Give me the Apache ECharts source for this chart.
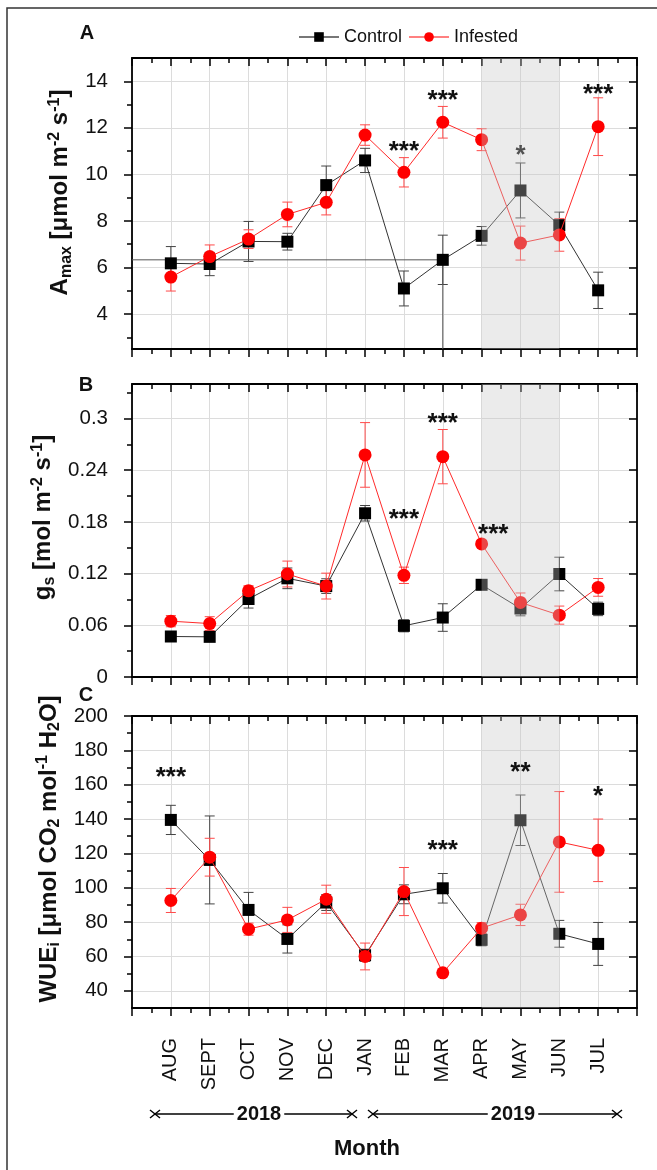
<!DOCTYPE html>
<html lang="en">
<head>
<meta charset="UTF-8">
<title>Amax, gs, WUEi</title>
<script src="https://cdn.jsdelivr.net/npm/echarts@6/dist/echarts.min.js"></script>
<style>html,body{margin:0;padding:0;background:#fff;}</style>
</head>
<body>
<div id="chart" style="width:657px;height:1170px;"></div>
<script>
// months, plotted at x = 1..12
var months = ['AUG', 'SEPT', 'OCT', 'NOV', 'DEC', 'JAN', 'FEB', 'MAR', 'APR', 'MAY', 'JUN', 'JUL'];
var shadeFrom = 'APR', shadeTo = 'JUN';

// panel A - Amax
var amaxControl    = [6.18, 6.15, 7.12, 7.11, 9.54, 10.6, 5.1, 6.33, 7.36, 9.31, 7.82, 5.02];
var amaxControlErr = [0.72, 0.5, 0.86, 0.36, 0.82, 0.52, 0.75, 1.06, 0.4, 1.18, 0.56, 0.78];
var amaxInf        = [5.59, 6.47, 7.22, 8.28, 8.8, 11.69, 10.09, 12.24, 11.49, 7.05, 7.4, 12.05];
var amaxInfErr     = [0.6, 0.5, 0.4, 0.53, 0.54, 0.44, 0.63, 0.68, 0.47, 0.73, 0.7, 1.24];
var amaxStarX   = [7, 8, 10, 12];
var amaxStarY   = [10.99, 13.17, 10.78, 13.42];
var amaxStarTxt = ['***', '***', '*', '***'];
var amaxTicks = [4, 6, 8, 10, 12, 14];
var amaxMinor = [3, 5, 7, 9, 11, 13];

// panel B - gs
var gsControl    = [0.047, 0.0466, 0.0905, 0.1145, 0.1055, 0.19, 0.0594, 0.069, 0.107, 0.0795, 0.1195, 0.079];
var gsControlErr = [0.005, 0.005, 0.0105, 0.012, 0.0085, 0.009, 0.007, 0.016, 0.003, 0.0085, 0.0195, 0.0078];
var gsInf        = [0.0648, 0.062, 0.1, 0.1195, 0.1055, 0.2577, 0.118, 0.2557, 0.1544, 0.0865, 0.0718, 0.104];
var gsInfErr     = [0.0065, 0.008, 0.006, 0.015, 0.015, 0.0375, 0.0095, 0.0315, 0.004, 0.011, 0.0105, 0.0103];
var gsStarX   = [7, 8, 9.3];
var gsStarY   = [0.1824, 0.2938, 0.165];
var gsStarTxt = ['***', '***', '***'];
var gsTicks = [0, 0.06, 0.12, 0.18, 0.24, 0.3];
var gsMinor = [0.03, 0.09, 0.15, 0.21, 0.27, 0.33];

// panel C - WUEi
var wueControl    = [139.5, 116.2, 87.1, 70.2, 91.4, 60.7, 96.2, 99.7, 69.7, 139.3, 73.2, 67.3];
var wueControlErr = [8.5, 25.6, 10.2, 8.2, 4.6, 3.5, 5.5, 8.6, 3.5, 14.7, 7.8, 12.5];
var wueInf        = [92.6, 117.8, 75.9, 81.3, 93.3, 60, 97.8, 50.5, 76.5, 84.2, 126.7, 121.8];
var wueInfErr     = [7, 11, 3.5, 7.3, 8.2, 7.8, 14, 2, 3.2, 6.2, 29.3, 18.2];
var wueStarX   = [1, 8, 10, 12];
var wueStarY   = [164.1, 121.5, 166.7, 153.1];
var wueStarTxt = ['***', '***', '**', '*'];
var wueTicks = [40, 60, 80, 100, 120, 140, 160, 180, 200];
var wueMinor = [50, 70, 90, 110, 130, 150, 170, 190];

var FONT = '"Liberation Sans", Arial, sans-serif';
var BLK = '#111';

function points(vals) {
    return vals.map(function (v, i) { return [i + 1, v]; });
}
function bars(vals, errs) {
    return vals.map(function (v, i) { return [i + 1, v - errs[i], v + errs[i]]; });
}

function renderErr(params, api) {
    var x = api.value(0);
    var lo = api.coord([x, api.value(1)]);
    var hi = api.coord([x, api.value(2)]);
    var c = 5;
    var st = api.style({ stroke: api.visual('color'), lineWidth: 1 });
    return {
        type: 'group',
        children: [
            { type: 'line', shape: { x1: hi[0], y1: hi[1], x2: lo[0], y2: lo[1] }, style: st },
            { type: 'line', shape: { x1: hi[0] - c, y1: hi[1], x2: hi[0] + c, y2: hi[1] }, style: st },
            { type: 'line', shape: { x1: lo[0] - c, y1: lo[1], x2: lo[0] + c, y2: lo[1] }, style: st }
        ]
    };
}

function renderShade(params, api) {
    var a = api.coord([api.value(0), 0]);
    var b = api.coord([api.value(1), 0]);
    var cs = params.coordSys;
    return {
        type: 'rect',
        shape: { x: a[0], y: cs.y, width: b[0] - a[0], height: cs.height },
        style: { fill: 'rgba(197,197,197,0.35)' }
    };
}

function starRenderer(txt) {
    return function (params, api) {
        var p = api.coord([api.value(0), api.value(1)]);
        return {
            type: 'text', x: p[0], y: p[1],
            style: { text: txt[params.dataIndex], font: 'bold 26px ' + FONT, fill: BLK, align: 'center', verticalAlign: 'middle' }
        };
    };
}

var axisLine = { onZero: false, lineStyle: { color: '#000', width: 1.8 } };
var tickLine = { color: '#000', width: 1.5 };

function xAxes(g) {
    var base = {
        gridIndex: g, type: 'value', min: 0, max: 13, interval: 1,
        axisLine: axisLine,
        minorTick: { show: true, splitNumber: 2, length: 5, lineStyle: tickLine },
        splitLine: { show: false }
    };
    var bottom = Object.assign({}, base, {
        position: 'bottom',
        axisTick: { show: true, inside: false, length: 8, lineStyle: tickLine },
        splitLine: { show: true, lineStyle: { color: '#dcdcdc', width: 1 } },
        axisLabel: g === 2 ? {
            show: true, rotate: 90, margin: 30, fontSize: 20, color: BLK, fontFamily: FONT,
            formatter: function (v) { return months[v - 1] || ''; }
        } : { show: false }
    });
    var top = Object.assign({}, base, {
        position: 'top',
        axisTick: { show: true, inside: true, length: 8, lineStyle: tickLine },
        axisLabel: { show: false }
    });
    return [bottom, top];
}

function yAxes(g, min, max, extra, majors, minors, name, gap, shiftUp) {
    var base = Object.assign({ gridIndex: g, type: 'value', min: min, max: max, splitLine: { show: false } }, extra);
    var leftMajor = Object.assign({}, base, {
        position: 'left',
        name: name, nameLocation: 'middle', nameRotate: 90, nameGap: gap,
        nameTextStyle: {
            padding: [0, 0, 0, shiftUp * 2],
            rich: {
                b: { fontSize: 24, fontWeight: 'bold', fontFamily: FONT, color: BLK, lineHeight: 28 },
                sub: { fontSize: 16, fontWeight: 'bold', fontFamily: FONT, color: BLK, lineHeight: 15, verticalAlign: 'bottom' },
                sup: { fontSize: 16, fontWeight: 'bold', fontFamily: FONT, color: BLK, lineHeight: 15, verticalAlign: 'top' }
            }
        },
        axisLine: axisLine,
        axisTick: { show: true, inside: false, length: 8, customValues: majors, lineStyle: tickLine },
        axisLabel: { show: true, customValues: majors, margin: 24, fontSize: 20.5, color: BLK, fontFamily: FONT },
        splitLine: { show: true, lineStyle: { color: '#dcdcdc', width: 1 } }
    });
    var leftMinor = Object.assign({}, base, {
        position: 'left',
        axisLine: { show: false },
        axisTick: { show: true, inside: false, length: 5, customValues: minors, lineStyle: tickLine },
        axisLabel: { show: false }
    });
    var rightMajor = Object.assign({}, base, {
        position: 'right',
        axisLine: axisLine,
        axisTick: { show: true, inside: true, length: 8, customValues: majors, lineStyle: tickLine },
        axisLabel: { show: false }
    });
    var rightMinor = Object.assign({}, base, {
        position: 'right',
        axisLine: { show: false },
        axisTick: { show: true, inside: true, length: 5, customValues: minors, lineStyle: tickLine },
        axisLabel: { show: false }
    });
    return [leftMajor, leftMinor, rightMajor, rightMinor];
}

function panelSeries(g, ctrl, ctrlErr, inf, infErr, starX, starY, starTxt, starsOnTop) {
    var xi = 2 * g, yi = 4 * g;
    var idx = months.indexOf(shadeFrom) + 1, idx2 = months.indexOf(shadeTo) + 1;
    return [
        { name: 'Control err', type: 'custom', xAxisIndex: xi, yAxisIndex: yi, renderItem: renderErr,
          encode: { x: 0, y: [1, 2] }, data: bars(ctrl, ctrlErr), itemStyle: { color: '#444' }, z: 2, silent: true },
        { name: 'Infested err', type: 'custom', xAxisIndex: xi, yAxisIndex: yi, renderItem: renderErr,
          encode: { x: 0, y: [1, 2] }, data: bars(inf, infErr), itemStyle: { color: '#ff4a4a' }, z: 2, silent: true },
        { name: 'Control', type: 'line', xAxisIndex: xi, yAxisIndex: yi, data: points(ctrl),
          symbol: 'rect', symbolSize: 12, itemStyle: { color: '#000' },
          lineStyle: { color: '#333', width: 1 }, z: 3 },
        { name: 'Infested', type: 'line', xAxisIndex: xi, yAxisIndex: yi, data: points(inf),
          symbol: 'circle', symbolSize: 13, itemStyle: { color: '#ff0000' },
          lineStyle: { color: '#ff2a2a', width: 1 }, z: 4 },
        { name: 'shade', type: 'custom', xAxisIndex: xi, yAxisIndex: yi, renderItem: renderShade,
          encode: { x: [0, 1] }, data: [[idx, idx2]], z: 5, silent: true },
        { name: 'stars', type: 'custom', xAxisIndex: xi, yAxisIndex: yi, renderItem: starRenderer(starTxt),
          encode: { x: 0, y: 1 }, data: starX.map(function (x, i) { return [x, starY[i]]; }),
          z: starsOnTop ? 6 : 4, silent: true }
    ];
}

// thin cross-hair lines in panel A (horizontal to MAR control point, then down)
var crossX = [0, 8, 8];
var crossY = [amaxControl[7], amaxControl[7], 2.5];

var series = []
    .concat(panelSeries(0, amaxControl, amaxControlErr, amaxInf, amaxInfErr, amaxStarX, amaxStarY, amaxStarTxt, false))
    .concat(panelSeries(1, gsControl, gsControlErr, gsInf, gsInfErr, gsStarX, gsStarY, gsStarTxt, true))
    .concat(panelSeries(2, wueControl, wueControlErr, wueInf, wueInfErr, wueStarX, wueStarY, wueStarTxt, true));
series.push({
    name: 'cross', type: 'line', xAxisIndex: 0, yAxisIndex: 0, symbol: 'none', silent: true, z: 2,
    data: crossX.map(function (x, i) { return [x, crossY[i]]; }),
    lineStyle: { color: '#555', width: 1 }
});

function yearArrow(x1, x2, tx, label) {
    var y = 1114, sx = 5, sy = 4;
    var ln = { stroke: '#000', lineWidth: 1.5 };
    return [
        { type: 'line', shape: { x1: x1, y1: y, x2: x2, y2: y }, style: ln },
        { type: 'line', shape: { x1: x1 - sx, y1: y - sy, x2: x1 + sx, y2: y + sy }, style: ln },
        { type: 'line', shape: { x1: x1 - sx, y1: y + sy, x2: x1 + sx, y2: y - sy }, style: ln },
        { type: 'line', shape: { x1: x2 - sx, y1: y - sy, x2: x2 + sx, y2: y + sy }, style: ln },
        { type: 'line', shape: { x1: x2 - sx, y1: y + sy, x2: x2 + sx, y2: y - sy }, style: ln },
        { type: 'text', x: tx, y: y, z: 10, style: { text: label, font: 'bold 20px ' + FONT, fill: BLK, align: 'center', verticalAlign: 'middle', backgroundColor: '#fff', padding: [0, 3] } }
    ];
}

var graphic = [
    { type: 'rect', shape: { x: 7, y: 8, width: 700, height: 1200 }, style: { fill: 'none', stroke: '#333', lineWidth: 1.5 } },
    { type: 'text', x: 87, y: 33, style: { text: 'A', font: 'bold 20px ' + FONT, fill: BLK, align: 'center', verticalAlign: 'middle' } },
    { type: 'text', x: 86, y: 385, style: { text: 'B', font: 'bold 20px ' + FONT, fill: BLK, align: 'center', verticalAlign: 'middle' } },
    { type: 'text', x: 86, y: 695, style: { text: 'C', font: 'bold 20px ' + FONT, fill: BLK, align: 'center', verticalAlign: 'middle' } },
    { type: 'text', x: 367, y: 1149, style: { text: 'Month', font: 'bold 22px ' + FONT, fill: BLK, align: 'center', verticalAlign: 'middle' } }
].concat(yearArrow(155, 352, 259, '2018')).concat(yearArrow(373, 617, 513, '2019'));

var grids = [
    { left: 132, right: 20, top: 58, height: 291 },
    { left: 132, right: 20, top: 384, height: 293 },
    { left: 132, right: 20, top: 716, height: 292 }
];

var option = {
    backgroundColor: '#fff',
    animation: false,
    textStyle: { fontFamily: FONT },
    legend: {
        data: [
            { name: 'Control', itemStyle: { color: '#000' }, lineStyle: { color: '#777' } },
            { name: 'Infested', itemStyle: { color: '#ff0000' }, lineStyle: { color: '#ff8080' } }
        ],
        left: 293, top: 23,
        itemWidth: 40, itemHeight: 12, itemGap: 6,
        textStyle: { fontSize: 18, color: BLK, fontFamily: FONT }
    },
    grid: grids,
    xAxis: [].concat(xAxes(0), xAxes(1), xAxes(2)),
    yAxis: [].concat(
        yAxes(0, 2.5, 15, { splitNumber: 6 }, amaxTicks, amaxMinor,
            '{b|A}{sub|max}{b| [μmol m}{sup|-2}{b| s}{sup|-1}{b|]}', 54, 11),
        yAxes(1, 0, 0.34, { interval: 0.06 }, gsTicks, gsMinor,
            '{b|g}{sub|s}{b| [mol m}{sup|-2}{b| s}{sup|-1}{b|]}', 66, 13),
        yAxes(2, 30, 200, { splitNumber: 8 }, wueTicks, wueMinor,
            '{b|WUE}{sub|i}{b| [μmol CO}{sub|2}{b| mol}{sup|-1}{b| H}{sub|2}{b|O]}', 63, 13)
    ),
    graphic: graphic,
    series: series
};

var chart = echarts.init(document.getElementById('chart'));
chart.setOption(option);
</script>
</body>
</html>
